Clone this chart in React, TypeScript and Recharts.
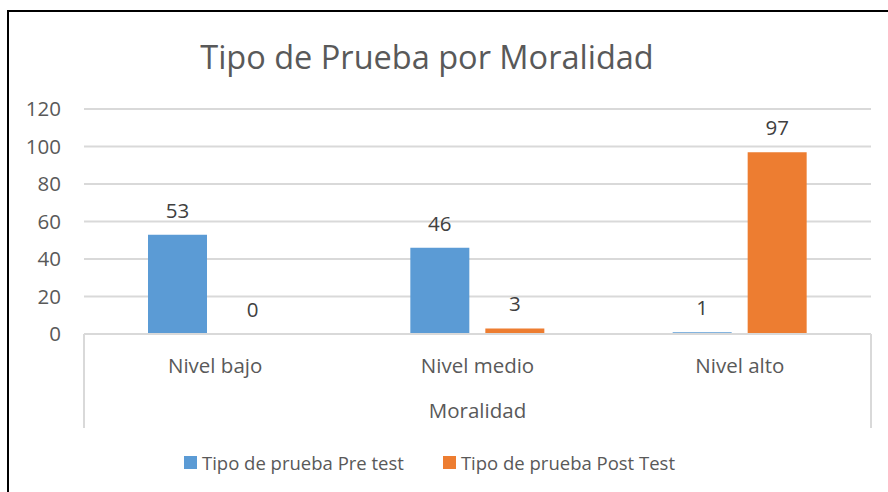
import { BarChart, Bar, XAxis, YAxis, CartesianGrid, Legend, LabelList } from "recharts";

const categories = ["Nivel bajo", "Nivel medio", "Nivel alto"];
const preTest = [53, 46, 1];
const postTest = [0, 3, 97];
const yTicks = [0, 20, 40, 60, 80, 100, 120];

const data = categories.map((name, i) => ({ name, pre: preTest[i], post: postTest[i] }));

const FONT = "'Open Sans', 'Noto Sans', sans-serif";
const TEXT = "#595959";
const LINE = "#D9D9D9";
const FS = 20.5;

function CategoryTick(props: any) {
  const { x, y, payload, index, visibleTicksCount } = props;
  const half = payload?.offset ?? 0;
  const last = (visibleTicksCount ?? 3) - 1;
  return (
    <g>
      {index === 0 && <line x1={x - half} y1={y - 8} x2={x - half} y2={y + 86} stroke={LINE} strokeWidth={2} />}
      {index === last && <line x1={x + half} y1={y - 8} x2={x + half} y2={y + 86} stroke={LINE} strokeWidth={2} />}
      <text x={x} y={y + 31} textAnchor="middle" fill={TEXT} fontSize={FS} fontFamily={FONT}>
        {payload.value}
      </text>
    </g>
  );
}

function ValueLabel(props: any) {
  const { x, y, width, value } = props;
  if (x == null || y == null) return null;
  return (
    <text x={x + width / 2} y={y - 17} textAnchor="middle" fill="#404040" fontSize={FS} fontFamily={FONT}>
      {value}
    </text>
  );
}

function LegendContent(props: any) {
  const items = [...(props.payload ?? [])].sort(
    (a: any, b: any) => (a.dataKey === "pre" ? -1 : 1) - (b.dataKey === "pre" ? -1 : 1)
  );
  return (
    <div style={{ display: "flex", justifyContent: "center", gap: 39, marginLeft: -12, fontFamily: FONT, fontSize: 18.5, color: TEXT }}>
      {items.map((it: any) => (
        <div key={it.dataKey} style={{ display: "flex", alignItems: "center", gap: 5 }}>
          <span style={{ width: 13, height: 13, background: it.color, display: "inline-block" }} />
          <span>{it.value}</span>
        </div>
      ))}
    </div>
  );
}

export default function App() {
  return (
    <div style={{ position: "fixed", left: 0, top: 0, width: 888, height: 492, overflow: "hidden", background: "#fff" }}>
      <div style={{ position: "absolute", left: 7, top: 10, width: 900, height: 500, border: "2px solid #000", boxSizing: "border-box" }} />
      <div style={{ position: "absolute", left: 0, top: 34, width: 854, textAlign: "center", fontFamily: FONT, fontSize: 32.5, color: TEXT }}>
        Tipo de Prueba por Moralidad
      </div>
      <div style={{ position: "absolute", left: 0, top: 0 }}>
        <BarChart
          width={888}
          height={492}
          data={data}
          margin={{ top: 109, right: 17, left: 0, bottom: 17 }}
          barGap={16}
          barCategoryGap={64}
        >
          <CartesianGrid vertical={false} stroke={LINE} strokeWidth={2} />
          <XAxis
            dataKey="name"
            height={94}
            axisLine={{ stroke: LINE, strokeWidth: 2 }}
            tickLine={false}
            tick={<CategoryTick />}
            interval={0}
            label={{ value: "Moralidad", position: "insideBottom", offset: 10, fill: TEXT, fontSize: FS, fontFamily: FONT }}
          />
          <YAxis
            width={84}
            domain={[0, 120]}
            ticks={yTicks}
            axisLine={false}
            tickLine={false}
            tickSize={0}
            tickMargin={23}
            tick={{ fill: TEXT, fontSize: FS, fontFamily: FONT }}
          />
          <Legend verticalAlign="bottom" wrapperStyle={{ paddingTop: 22 }} content={<LegendContent />} />
          <Bar dataKey="pre" name="Tipo de prueba Pre test" fill="#5B9BD5" minPointSize={0.01} isAnimationActive={false}>
            <LabelList dataKey="pre" content={<ValueLabel />} />
          </Bar>
          <Bar dataKey="post" name="Tipo de prueba Post Test" fill="#ED7D31" minPointSize={0.01} isAnimationActive={false}>
            <LabelList dataKey="post" content={<ValueLabel />} />
          </Bar>
        </BarChart>
      </div>
    </div>
  );
}
